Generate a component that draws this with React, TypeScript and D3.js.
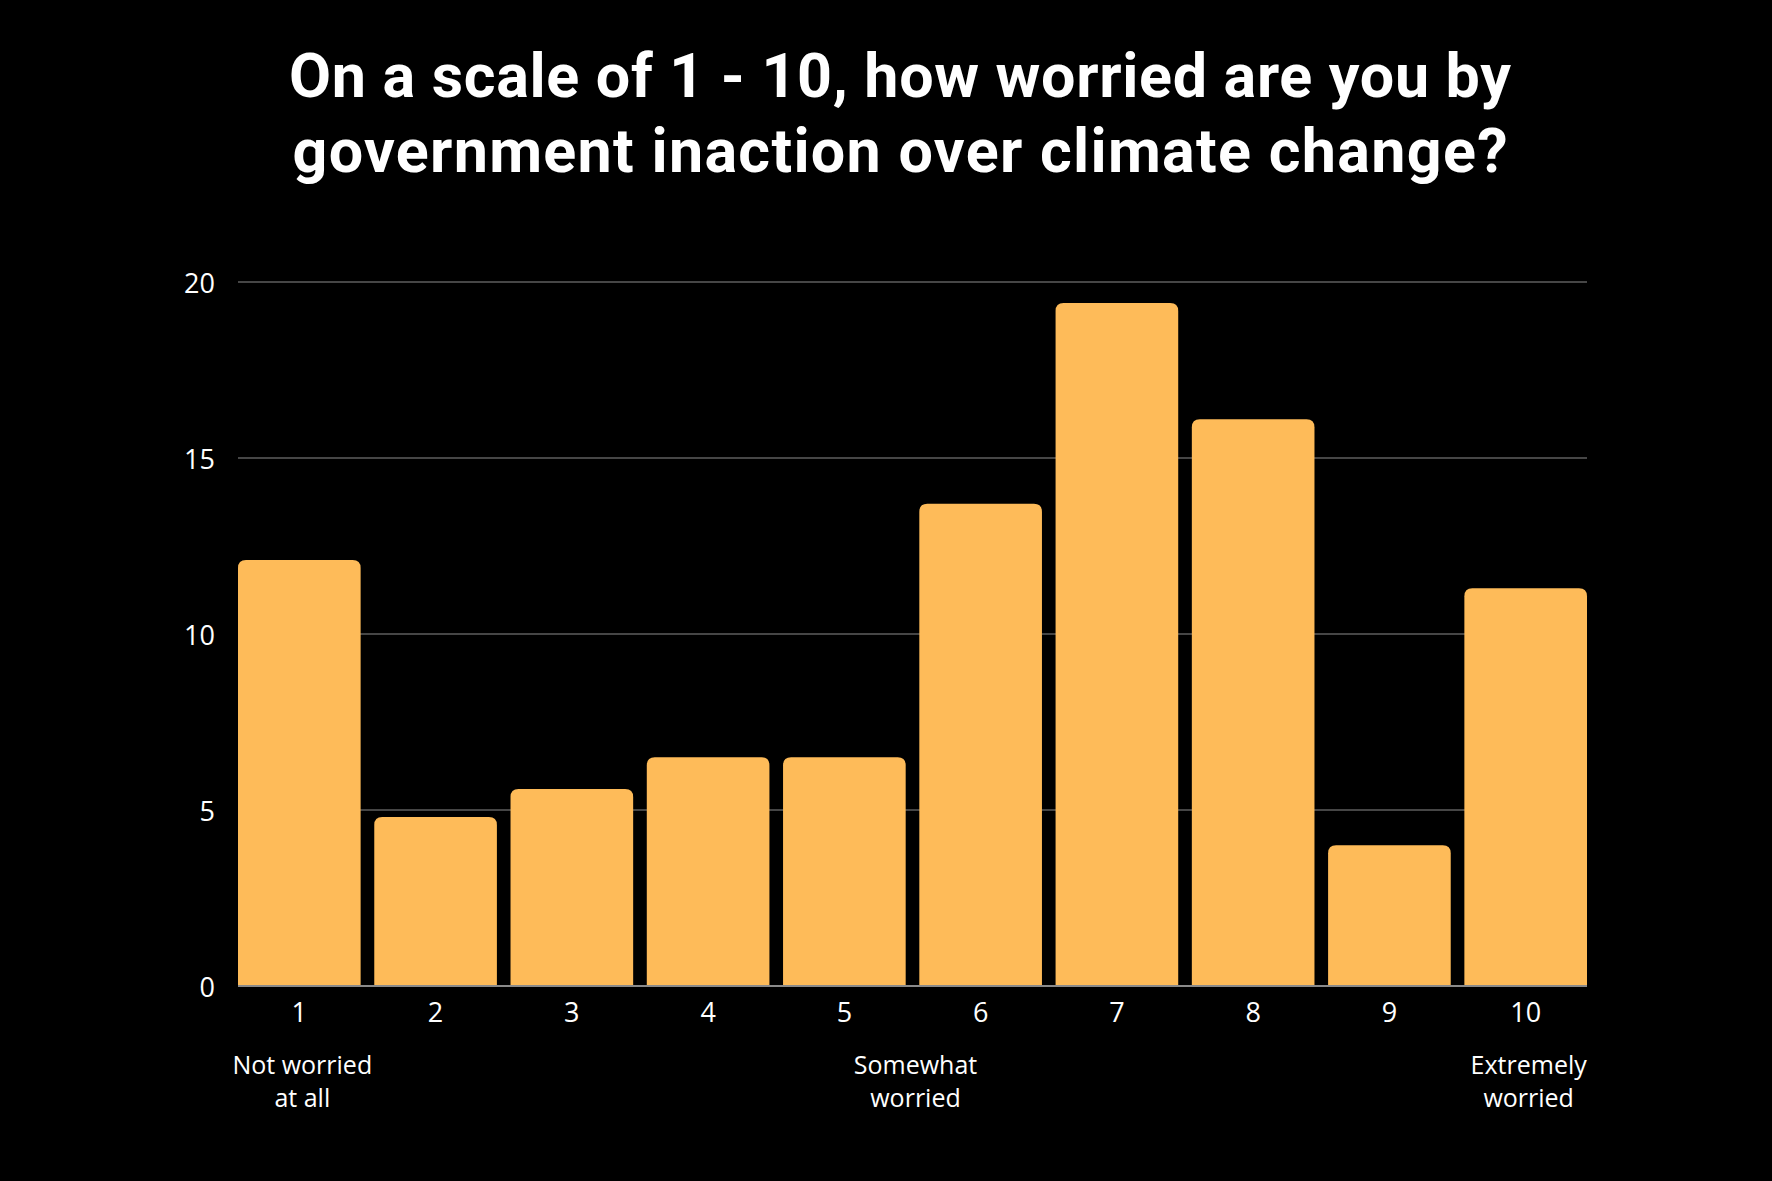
import React, { useEffect } from "react";
import * as d3 from "d3";

const categories = ["1", "2", "3", "4", "5", "6", "7", "8", "9", "10"];
const values = [12.1, 4.8, 5.6, 6.5, 6.5, 13.7, 19.4, 16.1, 4.0, 11.3];
const yTicks = [0, 5, 10, 15, 20];
const titleLines = [
  "On a scale of 1 - 10, how worried are you by",
  "government inaction over climate change?",
];
const titleWidths = [1222, 1215];
const annotations = [
  { at: "1", lines: ["Not worried", "at all"] },
  { at: "5.5", lines: ["Somewhat", "worried"] },
  { at: "10", lines: ["Extremely", "worried"] },
];

const W = 1772;
const H = 1181;
const M = { left: 238, right: 1587, top: 282, bottom: 986 };
const BAR = "#FEBB59";
const FONT = "'Open Sans', 'Noto Sans', sans-serif";

function topRoundedBar(x: number, y: number, w: number, h: number, r: number) {
  const rr = Math.min(r, h, w / 2);
  return `M${x},${y + h}V${y + rr}Q${x},${y} ${x + rr},${y}H${x + w - rr}Q${x + w},${y} ${x + w},${y + rr}V${y + h}Z`;
}

export default function App() {
  useEffect(() => {
    document.body.style.margin = "0";
    document.body.style.background = "#000";
  }, []);

  const x = d3.scaleBand<string>().domain(categories).range([M.left, M.right]).paddingInner(0.1).paddingOuter(0);
  const y = d3.scaleLinear().domain([0, 20]).range([M.bottom, M.top]);
  const bw = x.bandwidth();

  const annX = (at: string) => {
    if (at === "5.5") {
      return ((x("5") as number) + (x("6") as number)) / 2 + bw / 2 + 3;
    }
    return (x(at) as number) + bw / 2 + 3;
  };

  return (
    <svg width={W} height={H} style={{ position: "absolute", left: 0, top: 0, display: "block" }}>
      <rect x={0} y={0} width={W} height={H} fill="#000" />
      {titleLines.map((t, i) => (
        <text
          key={i}
          x={900}
          y={97 + i * 75}
          textAnchor="middle"
          fill="#fff"
          fontFamily="Roboto, 'Noto Sans', sans-serif"
          fontWeight={700}
          fontSize={61}
          textLength={titleWidths[i]}
          lengthAdjust="spacing"
        >
          {t}
        </text>
      ))}
      {yTicks.filter((t) => t > 0).map((t) => (
        <line key={t} x1={M.left} x2={M.right} y1={y(t)} y2={y(t)} stroke="#464646" strokeWidth={2} />
      ))}
      {yTicks.map((t) => (
        <text
          key={"yl" + t}
          x={215}
          y={y(t)}
          textAnchor="end"
          dominantBaseline="central"
          fill="#fff"
          fontFamily={FONT}
          fontSize={27}
        >
          {t}
        </text>
      ))}
      {categories.map((c, i) => (
        <path
          key={c}
          d={topRoundedBar(x(c) as number, y(values[i]), bw, y(0) - y(values[i]), 8)}
          fill={BAR}
        />
      ))}
      <line x1={M.left} x2={M.right} y1={y(0)} y2={y(0)} stroke="#8a8a8a" strokeWidth={2} />
      {categories.map((c) => (
        <text
          key={"xl" + c}
          x={(x(c) as number) + bw / 2}
          y={1022}
          textAnchor="middle"
          fill="#fff"
          fontFamily={FONT}
          fontSize={27}
        >
          {c}
        </text>
      ))}
      {annotations.map((a) =>
        a.lines.map((l, j) => (
          <text
            key={a.at + j}
            x={annX(a.at)}
            y={1074 + j * 33}
            textAnchor="middle"
            fill="#fff"
            fontFamily={FONT}
            fontSize={25}
          >
            {l}
          </text>
        ))
      )}
    </svg>
  );
}
